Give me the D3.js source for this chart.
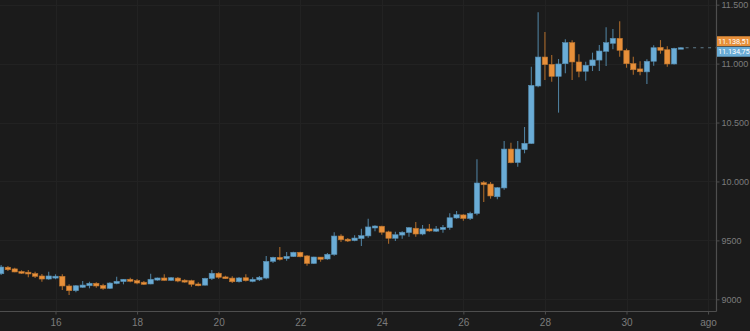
<!DOCTYPE html>
<html><head><meta charset="utf-8">
<script src="https://cdn.jsdelivr.net/npm/d3@7"></script>
<style>
html,body{margin:0;padding:0;background:#1b1b1b;}
svg{display:block;font-family:Roboto,"Noto Sans",sans-serif;}
</style></head>
<body><svg id="c" width="750" height="331"></svg>
<script>
// ---- data (4-hour candles, July 2020) ----
const firstCandle = Date.UTC(2020, 6, 14, 16);   // first visible candle
const candleHours = 4;
const open = [9217,9272,9258,9236,9230,9218,9198,9172,9180,9195,
  9113,9073,9102,9115,9136,9118,9093,9134,9150,9170,
  9158,9145,9130,9163,9181,9161,9180,9162,9158,9130,
  9120,9176,9221,9190,9180,9149,9183,9152,9165,9180,
  9322,9356,9345,9362,9399,9368,9304,9358,9342,9380,
  9537,9510,9498,9515,9538,9605,9620,9572,9518,9545,
  9566,9603,9554,9597,9578,9592,9608,9690,9716,9686,
  9728,9990,9978,9870,9945,10275,10160,10270,10322,10810,
  11056,10994,10892,10999,11178,11014,10935,10982,11030,11104,
  11172,11215,11113,11000,10955,10930,11020,11138,11118,10997,
  11130];
const high = [9291,9283,9268,9246,9249,9234,9215,9234,9212,9212,
  9127,9121,9155,9149,9144,9132,9144,9192,9172,9183,
  9172,9155,9217,9184,9212,9189,9189,9170,9166,9144,
  9183,9249,9229,9200,9195,9189,9212,9187,9198,9367,
  9361,9444,9401,9404,9403,9376,9362,9360,9393,9569,
  9552,9520,9543,9599,9684,9628,9625,9582,9574,9577,
  9614,9656,9631,9639,9622,9631,9730,9749,9722,9743,
  10188,10004,9995,9953,10343,10329,10343,10462,10974,11435,
  11268,11073,11039,11206,11198,11079,11016,11093,11158,11308,
  11294,11359,11127,11059,11020,11037,11155,11200,11147,11135,
  11139];
const low = [9206,9240,9229,9215,9187,9181,9149,9166,9170,9079,
  9036,9059,9096,9093,9098,9081,9087,9127,9127,9144,
  9127,9121,9128,9158,9158,9155,9144,9141,9107,9110,
  9118,9164,9175,9172,9138,9142,9151,9144,9155,9170,
  9308,9329,9328,9358,9357,9285,9300,9319,9336,9370,
  9486,9486,9492,9452,9523,9577,9548,9472,9495,9514,
  9531,9531,9543,9574,9571,9565,9591,9684,9667,9673,
  9713,9826,9854,9849,9930,10154,10125,10239,10318,10799,
  10861,10847,10584,10918,10861,10884,10855,10937,10937,10980,
  11122,11059,10965,10906,10901,10827,10982,11084,10974,10992,
  11128];
const close = [9274,9251,9232,9221,9215,9195,9172,9198,9196,9113,
  9073,9115,9121,9136,9113,9093,9138,9153,9170,9153,
  9138,9127,9170,9181,9161,9183,9155,9146,9127,9115,
  9178,9221,9187,9175,9149,9181,9158,9170,9187,9322,
  9356,9339,9365,9399,9361,9304,9359,9339,9382,9537,
  9505,9495,9520,9540,9614,9622,9569,9518,9548,9569,
  9608,9554,9597,9580,9597,9611,9692,9718,9686,9730,
  9987,9972,9877,9947,10275,10159,10275,10324,10816,11056,
  10991,10892,10997,11178,11014,10935,10986,11031,11107,11178,
  11215,11113,10999,10948,10931,11020,11135,11113,10997,11130,
  11134.75];
const lastPrice = 11134.75;
const refPrice = 11138.51;
const yTicks = [9000, 9500, 10000, 10500, 11000, 11500];
const xTickDates = [[2020,6,16],[2020,6,18],[2020,6,20],[2020,6,22],[2020,6,24],[2020,6,26],[2020,6,28],[2020,6,30],[2020,7,1]];
const xTickLabels = ["16","18","20","22","24","26","28","30","ago"];

// ---- layout ----
const W = 750, H = 331, plotR = 716, plotB = 311;
const BLUE = "#6aacd6", ORANGE = "#e8903a";
const BG = "#1b1b1b", GRID = "#222222", AXIS = "#4e4e4e", TXT = "#7c7c7c";

const svg = d3.select("#c");
svg.append("rect").attr("width", W).attr("height", H).attr("fill", BG);

const x = d3.scaleUtc()
  .domain([new Date(Date.UTC(2020,6,16)), new Date(Date.UTC(2020,6,30))])
  .range([55.5, 626.5]);
const y = d3.scaleLinear().domain([9000, 11500]).range([299.3, 4.7]);

const loc = d3.formatLocale({decimal: ",", thousands: ".", grouping: [3], currency: ["", "€"]});
const fmtBig = loc.format(",d");
const fmtPrice = loc.format(",.2f");
const yFmt = v => v >= 10000 ? fmtBig(v) : String(v);

const candles = open.map((o, i) => ({
  t: new Date(firstCandle + i * candleHours * 3600e3),
  o, h: high[i], l: low[i], c: close[i]
}));
const xTicks = xTickDates.map(d => new Date(Date.UTC(d[0], d[1], d[2])));

// grid
const grid = svg.append("g");
grid.selectAll("line.v").data(xTicks).join("line")
  .attr("x1", d => Math.round(x(d)) + 0.5).attr("x2", d => Math.round(x(d)) + 0.5)
  .attr("y1", 0).attr("y2", plotB).attr("stroke", GRID);
grid.selectAll("line.h").data(yTicks).join("line")
  .attr("x1", 0).attr("x2", plotR)
  .attr("y1", d => Math.round(y(d)) + 0.5).attr("y2", d => Math.round(y(d)) + 0.5)
  .attr("stroke", GRID);

// candles
svg.append("clipPath").attr("id", "clip").append("rect")
  .attr("x", 0).attr("y", 0).attr("width", plotR).attr("height", plotB);
const plot = svg.append("g").attr("clip-path", "url(#clip)");
const bw = 5.4;
const col = d => d.c >= d.o ? BLUE : ORANGE;
const g = plot.selectAll("g.c").data(candles).join("g");
g.append("line")
  .attr("x1", d => x(d.t)).attr("x2", d => x(d.t))
  .attr("y1", d => y(d.h)).attr("y2", d => y(d.l))
  .attr("stroke", d => d3.color(col(d)).darker(0.9)).attr("stroke-width", 1.1);
g.append("rect")
  .attr("x", d => x(d.t) - bw / 2)
  .attr("y", d => y(Math.max(d.o, d.c)))
  .attr("width", bw)
  .attr("height", d => Math.max(1.5, Math.abs(y(d.o) - y(d.c))))
  .attr("fill", col)
  .attr("stroke", d => d3.color(col(d)).darker(0.6)).attr("stroke-width", 0.6);

// last price dashed line
const last = candles[candles.length - 1];
plot.append("line")
  .attr("x1", x(last.t) + bw / 2 + 2).attr("x2", plotR)
  .attr("y1", y(lastPrice)).attr("y2", y(lastPrice))
  .attr("stroke", "#5f7b8a").attr("stroke-width", 1.2).attr("stroke-dasharray", "3,4.5");

// axes lines
svg.append("line").attr("x1", 0).attr("x2", plotR + 0.5).attr("y1", plotB + 0.5).attr("y2", plotB + 0.5)
  .attr("stroke", AXIS).attr("stroke-width", 1.2);
svg.append("line").attr("x1", plotR + 0.5).attr("x2", plotR + 0.5).attr("y1", 0).attr("y2", plotB + 0.5)
  .attr("stroke", AXIS).attr("stroke-width", 1.2);

// bottom axis
const xa = svg.append("g").attr("transform", `translate(0,${plotB + 0.5})`)
  .call(d3.axisBottom(x).tickValues(xTicks).tickFormat((d, i) => xTickLabels[i]).tickSize(3).tickPadding(4));
xa.select(".domain").remove();
xa.selectAll("line").attr("stroke", AXIS);
xa.selectAll("text").attr("fill", TXT).attr("font-size", 10);

// right axis
const ya = svg.append("g").attr("transform", `translate(${plotR + 0.5},0)`)
  .call(d3.axisRight(y).tickValues(yTicks).tickFormat(yFmt).tickSize(3).tickPadding(2));
ya.select(".domain").remove();
ya.selectAll("line").attr("stroke", AXIS);
ya.selectAll("text").attr("fill", TXT).attr("font-size", 9);

// price labels
const ly = y(lastPrice) - 1;
const labels = [
  {v: refPrice, c: ORANGE, top: ly - 10.5},
  {v: lastPrice, c: BLUE, top: ly}
];
const lg = svg.selectAll("g.lbl").data(labels).join("g");
lg.append("rect").attr("x", plotR + 1).attr("y", d => d.top).attr("width", W - plotR - 1).attr("height", 10)
  .attr("fill", d => d.c);
lg.append("text").attr("x", plotR + 2).attr("y", d => d.top + 7.7)
  .attr("fill", "#ffffff").attr("font-size", 7.4).attr("letter-spacing", -0.1)
  .text(d => fmtPrice(d.v));
</script></body></html>
